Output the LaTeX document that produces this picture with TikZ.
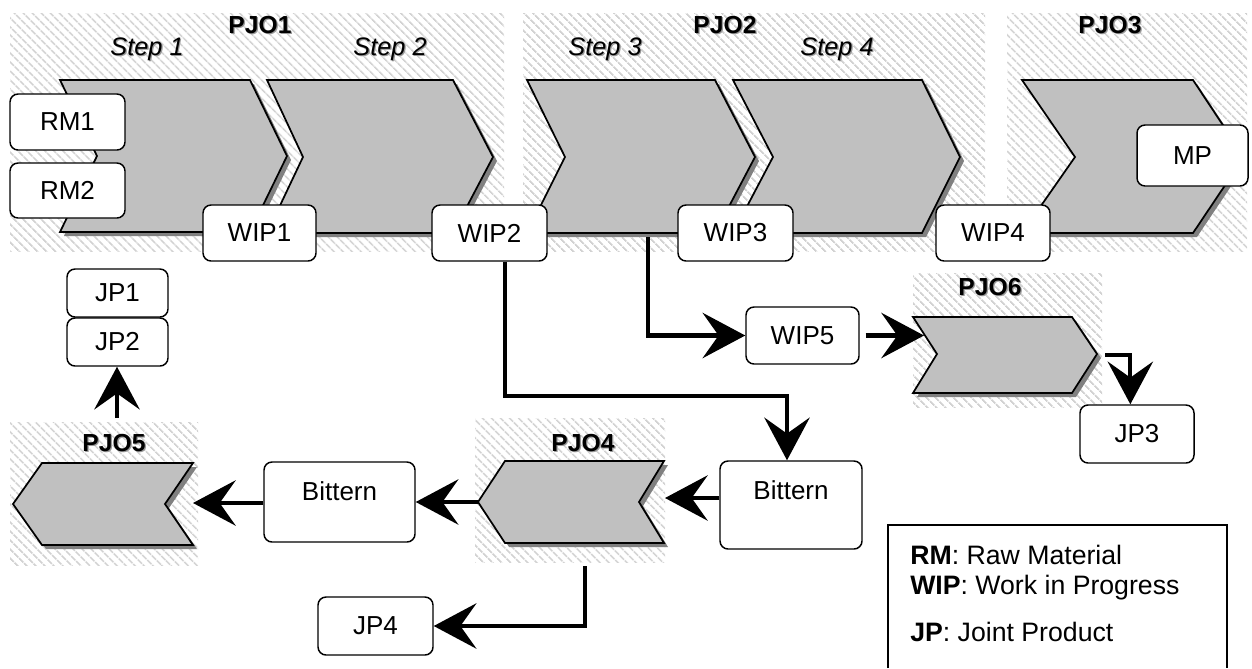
\documentclass[tikz,border=0pt]{standalone}
\usepackage{fontspec}
\setmainfont{Liberation Sans}
\usetikzlibrary{arrows.meta,patterns.meta,calc}
\definecolor{chevfill}{HTML}{C0C0C0}
\definecolor{shadowgray}{HTML}{808080}
\definecolor{hatchgray}{HTML}{D2D2D2}
\newcommand\shadowtext[1]{\makebox[0pt][l]{\kern0.9pt\raisebox{-0.9pt}{\textcolor{black!40}{#1}}}#1}
\def\u{0.75pt}
\begin{document}
\begin{tikzpicture}[x=0.75pt,y=-0.75pt,
  hatch/.style={pattern={Lines[angle=-45,distance=5.4pt,line width=1.6pt]}, pattern color=hatchgray},
  chev/.style={fill=chevfill, draw=black, line width=1.3pt,
    preaction={fill=shadowgray, transform canvas={shift={(3pt,-3pt)}}}},
  box/.style={draw, fill=white, rounded corners=6pt, line width=1.1pt, inner sep=0pt,
    font=\fontsize{19.5}{23}\selectfont},
  steplabel/.style={font=\fontsize{19}{22}\selectfont\itshape, anchor=base, inner sep=0pt},
  pjolabel/.style={font=\fontsize{18.5}{22}\selectfont\bfseries, anchor=base, inner sep=0pt},
  legend/.style={font=\fontsize{20}{23}\selectfont, anchor=base west, inner sep=0pt},
  arr/.style={line width=3.2pt, -{Stealth[length=32pt, width=34pt, inset=12pt]}}]
\useasboundingbox (0,0) rectangle (1252,668);
\fill[white] (0,0) rectangle (1252,668);

% hatched backdrops of the process groups
\fill[hatch] (10,13) rectangle (504,251);
\fill[hatch] (523,13) rectangle (985,251);
\fill[hatch] (1007,13) rectangle (1247,251);
\fill[hatch] (913,273) rectangle (1102,407);
\fill[hatch] (475,418) rectangle (665,562);
\fill[hatch] (10,422) rectangle (198,565);

% main line of process steps
\path[chev] (60,80) -- (250,80) -- (287,156) -- (250,232) -- (60,232) -- (97,156) -- cycle;
\path[chev] (267,80) -- (453,80) -- (493,157) -- (453,233) -- (267,233) -- (303,157) -- cycle;
\path[chev] (527,80) -- (715,80) -- (755,157) -- (715,233) -- (527,233) -- (565,157) -- cycle;
\path[chev] (733,80) -- (922,80) -- (960,157) -- (922,233) -- (733,233) -- (773,157) -- cycle;
\path[chev] (1022,80) -- (1193,80) -- (1244,157) -- (1193,233) -- (1022,233) -- (1075,157) -- cycle;

% side processes
\path[chev] (913,317) -- (1072,317) -- (1097,354) -- (1072,393) -- (913,393) -- (937,354) -- cycle;
\path[chev] (505,461) -- (664,461) -- (639,502) -- (664,543) -- (505,543) -- (478,502) -- cycle;
\path[chev] (42,463) -- (193,463) -- (165,504) -- (193,545) -- (42,545) -- (13,504) -- cycle;

% group and step titles
\node[pjolabel] (pjo1) at (260,33) {\shadowtext{PJO1}};
\node[pjolabel] (pjo2) at (725,33) {\shadowtext{PJO2}};
\node[pjolabel] (pjo3) at (1110,33) {\shadowtext{PJO3}};
\node[pjolabel] (pjo6) at (990,295) {\shadowtext{PJO6}};
\node[pjolabel] (pjo4) at (583,451) {\shadowtext{PJO4}};
\node[pjolabel] (pjo5) at (114,451) {\shadowtext{PJO5}};
\node[steplabel] (step1) at (147,55) {\shadowtext{Step 1}};
\node[steplabel] (step2) at (390,55) {\shadowtext{Step 2}};
\node[steplabel] (step3) at (605,55) {\shadowtext{Step 3}};
\node[steplabel] (step4) at (837,55) {\shadowtext{Step 4}};

% material boxes
\node[box, minimum width=115*\u, minimum height=56*\u] (RM1) at (67.5,122) {RM1};
\node[box, minimum width=115*\u, minimum height=55*\u] (RM2) at (67.5,190.5) {RM2};
\node[box, minimum width=113*\u, minimum height=56*\u] (WIP1) at (259.5,233) {WIP1};
\node[box, minimum width=115*\u, minimum height=56*\u] (WIP2) at (489.5,233) {WIP2};
\node[box, minimum width=115*\u, minimum height=56*\u] (WIP3) at (735.5,233) {WIP3};
\node[box, minimum width=114*\u, minimum height=56*\u] (WIP4) at (993,233) {WIP4};
\node[box, minimum width=111*\u, minimum height=61*\u] (MP) at (1192.5,155.5) {MP};
\node[box, minimum width=101*\u, minimum height=48*\u] (JP1) at (117.5,293) {JP1};
\node[box, minimum width=101*\u, minimum height=48*\u] (JP2) at (117.5,342) {JP2};
\node[box, minimum width=113*\u, minimum height=57*\u] (WIP5) at (802.5,335.5) {WIP5};
\node[box, minimum width=142*\u, minimum height=88*\u, text depth=23pt] (BitR) at (791,505) {Bittern};
\node[box, minimum width=151*\u, minimum height=80*\u, text depth=17pt] (BitL) at (339.5,502) {Bittern};
\node[box, minimum width=115*\u, minimum height=58*\u] (JP4) at (375.5,626) {JP4};
\node[box, minimum width=114*\u, minimum height=58*\u] (JP3) at (1137,434) {JP3};

% flow connectors
\coordinate (bend2) at (505,396);
\coordinate (s3out) at (648,237);
\coordinate (p6in) at (924,338);
\coordinate (p6out) at (1105,355);
\coordinate (p4in) at (665,498);
\coordinate (p4out) at (478,502);
\coordinate (p5in) at (193,503);
\coordinate (p5out) at (117,418);
\coordinate (p4dn) at (585,566);

\draw[arr] (WIP2.south -| bend2) -- (bend2) -| ([xshift=-3pt]BitR.north);
\draw[arr] (s3out) |- (WIP5.west);
\draw[arr] ([xshift=4.5pt]WIP5.east) -- (WIP5.east -| p6in);
\draw[arr] (p6out) -| ([xshift=-5pt]JP3.north);
\draw[arr] (BitR.west |- p4in) -- (p4in);
\draw[arr] (p4out) -- (p4out -| BitL.east);
\draw[arr] (p5in -| BitL.west) -- (p5in);
\draw[arr] (p5out) -- (p5out |- JP2.south);
\draw[arr] (p4dn) |- (JP4.east);

% legend
\draw[line width=1.2pt] (888,668) -- (888,525) -- (1227,525) -- (1227,668);
\node[legend] (legRM) at (910,564) {\textbf{RM}: Raw Material};
\node[legend] (legWIP) at (910,594) {\textbf{WIP}: Work in Progress};
\node[legend] (legJP) at (910,641) {\textbf{JP}: Joint Product};
\end{tikzpicture}
\end{document}
